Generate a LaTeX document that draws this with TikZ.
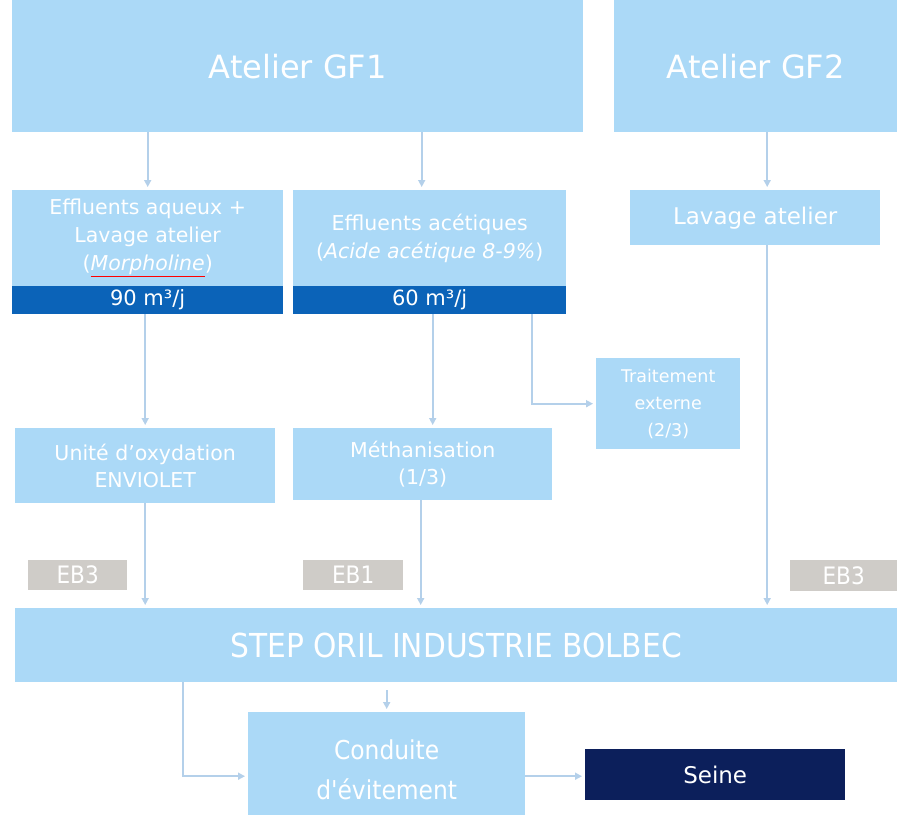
\documentclass[tikz,border=0pt]{standalone}
\usepackage{fontspec}
\setmainfont{DejaVu Sans}
\newfontfamily\condf{DejaVu Sans Condensed}
\usetikzlibrary{arrows.meta,calc}
\definecolor{lightb}{HTML}{ABD9F7}
\definecolor{arrc}{HTML}{B4D0EA}
\definecolor{darkb}{HTML}{0B63B8}
\definecolor{navy}{HTML}{0C1F5B}
\definecolor{grayb}{HTML}{CFCCC8}
\begin{document}
\begin{tikzpicture}[x=1pt,y=-1pt,
  box/.style={fill=lightb, draw=none, text=white, align=center, inner sep=0pt, anchor=north west},
  bar/.style={box, fill=darkb, font=\fontsize{21}{24}\selectfont},
  ebox/.style={box, fill=grayb, font=\condf\fontsize{24}{26}\selectfont},
  arr/.style={draw=arrc, line width=1.6pt, -{Triangle[length=7pt,width=7pt]}, shorten >=3pt}
]
\fill[white] (0,0) rectangle (897,814);
\useasboundingbox (0,0) rectangle (897,814);

\node[box, minimum width=571pt, minimum height=132pt, font=\fontsize{32}{36}\selectfont] (gf1) at (12,0) {Atelier GF1};
\node[box, minimum width=283pt, minimum height=132pt, font=\fontsize{32}{36}\selectfont] (gf2) at (614,0) {Atelier GF2};

\node[box, minimum width=271pt, minimum height=96pt, font=\fontsize{20.5}{28}\selectfont] (eaq) at (12,190)
  {Effluents aqueux +\\Lavage atelier\\({\color{red}\underline{\color{white}\itshape Morpholine}})};
\node[bar, minimum width=271pt, minimum height=28pt] (bar1) at (12,286) {90 m³/j};

\node[box, minimum width=273pt, minimum height=96pt, font=\fontsize{20.5}{28}\selectfont] (eac) at (293,190)
  {Effluents acétiques\\(\textit{Acide acétique 8-9\%})};
\node[bar, minimum width=273pt, minimum height=28pt] (bar2) at (293,286) {60 m³/j};

\node[box, minimum width=250pt, minimum height=55pt, font=\fontsize{23}{26}\selectfont] (lav) at (630,190) {Lavage atelier};

\node[box, minimum width=144pt, minimum height=91pt, font=\fontsize{17.5}{27}\selectfont] (trt) at (596,358) {Traitement\\externe\\(2/3)};

\node[box, minimum width=260pt, minimum height=75pt, font=\fontsize{20.5}{27}\selectfont] (uox) at (15,428) {Unité d'oxydation\\ENVIOLET};
\node[box, minimum width=259pt, minimum height=72pt, font=\fontsize{20.5}{27}\selectfont] (met) at (293,428) {Méthanisation\\(1/3)};

\node[ebox, minimum width=99pt, minimum height=30pt] (eb3a) at (28,560) {EB3};
\node[ebox, minimum width=100pt, minimum height=30pt] (eb1) at (303,560) {EB1};
\node[ebox, minimum width=107pt, minimum height=31pt] (eb3b) at (790,560) {EB3};

\node[box, minimum width=882pt, minimum height=74pt, font=\condf\fontsize{33}{36}\selectfont] (step) at (15,608) {STEP ORIL INDUSTRIE BOLBEC};

\node[box, minimum width=277pt, minimum height=116pt, font=\condf\fontsize{26}{40}\selectfont] (cond) at (248,712) {Conduite\\d'évitement};
\node[box, fill=navy, minimum width=260pt, minimum height=51pt, font=\fontsize{23}{26}\selectfont] (seine) at (585,749) {Seine};

% connectors
\draw[arr] (gf1.south -| eaq.north) -- (eaq.north);
\draw[arr] ([xshift=-8pt]eac.north |- gf1.south) -- ([xshift=-8pt]eac.north);
\draw[arr] ([xshift=12pt]lav.north |- gf2.south) -- ([xshift=12pt]lav.north);
\draw[arr] (bar1.south -| uox.north) -- (uox.north);
\draw[arr] ([xshift=10pt]met.north |- bar2.south) -- ([xshift=10pt]met.north);
\draw[arr] ([xshift=102pt]bar2.south) |- (trt.west);
\draw[arr] (uox.south) -- (uox.south |- step.north);
\draw[arr] ([xshift=-2pt]met.south) -- ([xshift=-2pt]met.south |- step.north);
\draw[arr] ([xshift=12pt]lav.south) -- ([xshift=12pt]lav.south |- step.north);
\draw[arr] ([xshift=168pt]step.south west) |- ([yshift=-6pt]cond.west);
\draw[arr, shorten <=8pt] (step.south -| cond.north) -- (cond.north);
\draw[arr] ([yshift=-6pt]cond.east) -- ([yshift=-6pt]cond.east -| seine.west);
\end{tikzpicture}
\end{document}
